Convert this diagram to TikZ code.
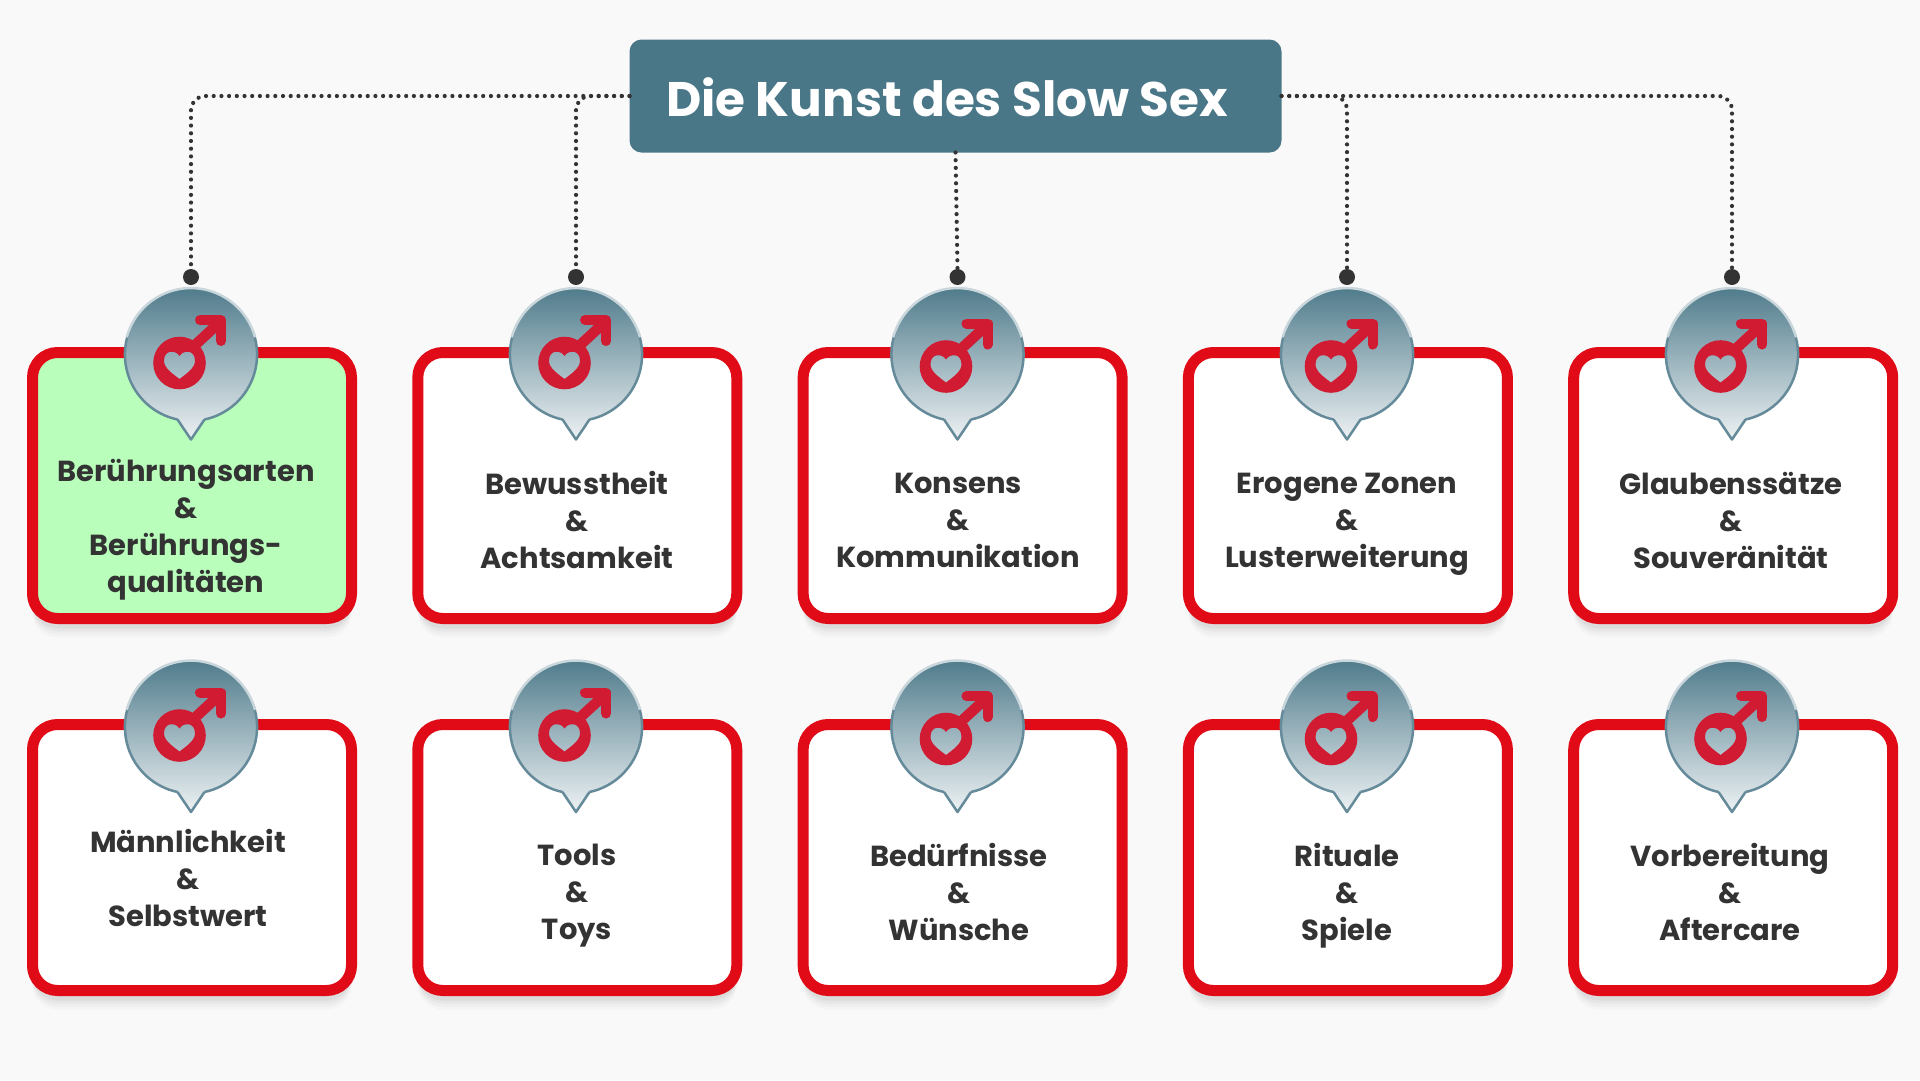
\documentclass[tikz,border=0pt]{standalone}
\usepackage{fontspec}
\setmainfont{Poppins}
\usepackage{tikz}
\usetikzlibrary{positioning,calc}
\definecolor{pagegray}{HTML}{F9F9F9}
\definecolor{cardred}{HTML}{E00B17}
\definecolor{cardgreen}{HTML}{B9FFBB}
\definecolor{titleblue}{HTML}{4A7788}
\definecolor{inkgray}{HTML}{333333}
\definecolor{iconred}{HTML}{D01B33}
\tikzset{
  softshadow/.style={
    preaction={fill=black,opacity=.02,transform canvas={yshift=-19pt}},
    preaction={fill=black,opacity=.025,transform canvas={yshift=-16pt}},
    preaction={fill=black,opacity=.03,transform canvas={yshift=-13pt}},
    preaction={fill=black,opacity=.04,transform canvas={yshift=-10pt}}},
  card/.style={draw=cardred,fill=white,line width=11pt,rounded corners=25pt,minimum width=319pt,minimum height=266pt,outer sep=0pt,softshadow},
  cardlabel/.style={align=center,text=inkgray,font=\fontsize{29}{37}\selectfont\bfseries,execute at begin node=\strut,execute at end node=\strut},
  pindot/.style={circle,fill=inkgray,inner sep=0pt,minimum size=16pt},
  dotline/.style={inkgray,line width=4.2pt,line cap=round,dash pattern=on 0pt off 7.7pt,rounded corners=14pt},
  pics/malepin/.style 2 args={code={
    \shade [top color=titleblue,bottom color=white!90!titleblue] (13.5,65) arc (78:-258:66.4) -- (0,85) -- cycle;
    \draw [line width=2.5pt,line join=round,titleblue!85!white] (13.5,65) arc (78:-20:66.4) (-13.5,65) arc (102:200:66.4) (-13.5,65) -- (0,85) -- (13.5,65);
    \draw [line width=2.5pt,titleblue!30!white] (64,-17.2) arc (-15:-165:66.4);
    \begin{scope}[shift={(#1,#2)}]
      \fill [iconred,even odd rule] (-11.5,8.5) circle (26.3)
        (-11.5,1.5) .. controls (-15,-4.5) and (-27,-5.5) .. (-27,6.5) .. controls (-27,13.5) and (-18,19.5) .. (-11.5,24.5) .. controls (-5,19.5) and (4,13.5) .. (4,6.5) .. controls (4,-5.5) and (-8,-4.5) .. (-11.5,1.5) -- cycle;
      \draw [iconred,line width=10.5pt] (3,-8.5) -- (29,-32.5);
      \draw [iconred,line width=10pt,line join=round,line cap=round] (9,-34.5) -- (30,-34.5) -- (30,-13.5);
    \end{scope}
  }}
}
\begin{document}
\begin{tikzpicture}[x=1pt,y=-1pt]
  \useasboundingbox [fill=pagegray] (0,0) rectangle (1920,1080);
  % cards
  \node [card,fill=cardgreen] (b1) at (192,485.5) {};
  \node [card,right=66.3pt of b1] (b2) {};
  \node [card,right=66.3pt of b2] (b3) {};
  \node [card,right=66.3pt of b3] (b4) {};
  \node [card,right=66.3pt of b4] (b5) {};
  \node [card,below=106pt of b1] (b6) {};
  \node [card,right=66.3pt of b6] (b7) {};
  \node [card,right=66.3pt of b7] (b8) {};
  \node [card,right=66.3pt of b8] (b9) {};
  \node [card,right=66.3pt of b9] (b10) {};
  % title
  \node [fill=titleblue,rounded corners=12pt,minimum width=652pt,minimum height=113pt,outer sep=0pt] (top) at (955.5,96) {};
  \node [text=white,font=\fontsize{48.5}{54}\selectfont\bfseries] (toptext) at (947,97) {Die Kunst des Slow Sex};
  % pins
  \node [pindot] (d1) at (191,277) {};
  \node [pindot] (d2) at (576,277) {};
  \node [pindot] (d3) at (957.5,277) {};
  \node [pindot] (d4) at (1347,277) {};
  \node [pindot] (d5) at (1732,277) {};
  \draw [dotline] (top.west) -| (d1.north);
  \draw [dotline] (top.west) -| (d2.north);
  \draw [dotline] (top.south) -- (d3.north);
  \draw [dotline] (top.east) -| (d4.north);
  \draw [dotline] (top.east) -| (d5.north);
  % bubbles
  \pic at (191,354.5) {malepin={0}{0}};
  \pic at (576,354.5) {malepin={0}{0}};
  \pic at (957.5,354.5) {malepin={0}{3.5}};
  \pic at (1347,354.5) {malepin={-4.5}{3.5}};
  \pic at (1732,354.5) {malepin={0}{3.5}};
  \pic at (191,727) {malepin={0}{0}};
  \pic at (576,727) {malepin={0}{0}};
  \pic at (957.5,727) {malepin={0}{3.5}};
  \pic at (1347,727) {malepin={-4.5}{3.5}};
  \pic at (1732,727) {malepin={0}{3.5}};
  % labels
  \node [cardlabel] (l1) at (186,531) {Berührungsarten\\\&\\Berührungs-\\qualitäten};
  \node [cardlabel] (l2) at (577,525.5) {Bewusstheit\\\&\\Achtsamkeit};
  \node [cardlabel] (l3) at (958,525.5) {Konsens\\\&\\Kommunikation};
  \node [cardlabel] (l4) at (1347,525.5) {Erogene Zonen\\\&\\Lusterweiterung};
  \node [cardlabel] (l5) at (1731,525.5) {Glaubenssätze\\\&\\Souveränität};
  \node [cardlabel] (l6) at (188,883.5) {Männlichkeit\\\&\\Selbstwert};
  \node [cardlabel] (l7) at (577,897.5) {Tools\\\&\\Toys};
  \node [cardlabel] (l8) at (959,897.5) {Bedürfnisse\\\&\\Wünsche};
  \node [cardlabel] (l9) at (1347,897.5) {Rituale\\\&\\Spiele};
  \node [cardlabel] (l10) at (1730,897.5) {Vorbereitung\\\&\\Aftercare};
\end{tikzpicture}
\end{document}
